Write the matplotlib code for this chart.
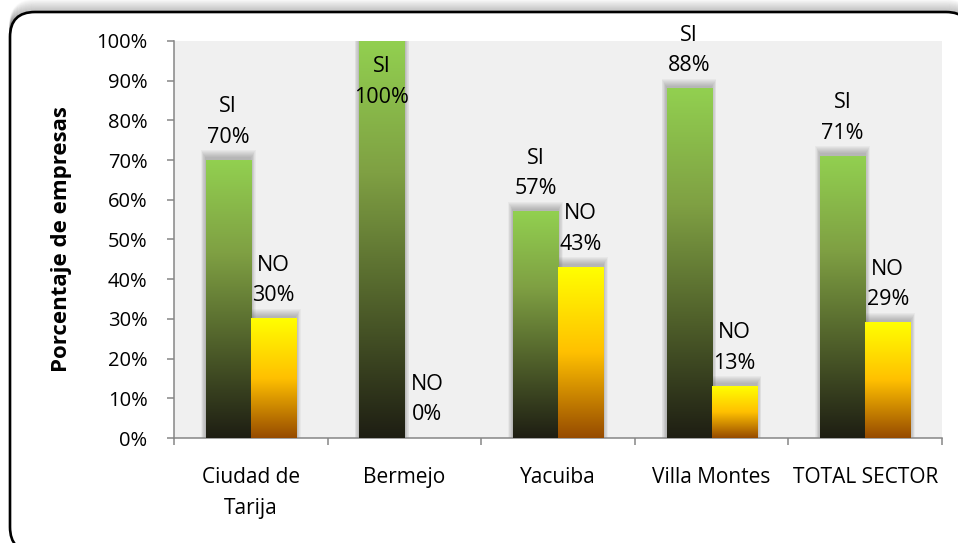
import matplotlib.pyplot as plt
import numpy as np
from matplotlib.patches import FancyBboxPatch, Rectangle
from matplotlib.colors import LinearSegmentedColormap

plt.rcParams['font.family'] = ['Open Sans', 'DejaVu Sans']

# datos del grafico
categorias = ["Ciudad de\nTarija", "Bermejo", "Yacuiba", "Villa Montes", "TOTAL SECTOR"]
si = [70, 100, 57, 88, 71]
no = [30, 0, 43, 13, 29]
series = ["SI", "NO"]

fig = plt.figure(figsize=(9.58, 5.43), dpi=100)

# fondo con el marco redondeado (coordenadas en pixeles)
bg = fig.add_axes([0, 0, 1, 1], zorder=0)
bg.set_xlim(0, 958)
bg.set_ylim(543, 0)
bg.axis("off")
for k in range(1, 13):
    sh = FancyBboxPatch((10, 12 - k), 961, 540, boxstyle="round,pad=0,rounding_size=25",
                        facecolor="none", edgecolor="#707070", linewidth=1.2,
                        alpha=0.28 * (13 - k) / 12)
    bg.add_patch(sh)
marco = FancyBboxPatch((10, 12), 961, 540, boxstyle="round,pad=0,rounding_size=25",
                       facecolor="white", edgecolor="black", linewidth=1.9)
bg.add_patch(marco)

ax = fig.add_axes([174 / 958, 105 / 543, 768 / 958, 397 / 543], zorder=1)
ax.set_facecolor("#F0F0F0")

verde = LinearSegmentedColormap.from_list("verde", ["#1E1E13", "#4F5F2A", "#7FA043", "#92D050"])
amarillo = LinearSegmentedColormap.from_list("amarillo", ["#964B00", "#FFC000", "#FFFF00"])
grad = np.linspace(0, 1, 256).reshape(-1, 1)

ancho = 0.293
px_x = 1 / 153.6
px_y = 100 / 397

x = np.arange(len(categorias))
for i in x:
    for j, (vals, cmap) in enumerate([(si, verde), (no, amarillo)]):
        v = vals[i]
        x0 = i - ancho + j * ancho
        x1 = x0 + ancho
        if v > 0:
            # sombra difusa
            for d in range(1, 9):
                ax.add_patch(Rectangle((x0 - d * px_x * 0.6, 0), (x1 - x0) + 1.2 * d * px_x,
                                       v + (2 + d) * px_y, facecolor="#606060",
                                       edgecolor="none", alpha=0.06, zorder=2))
            ax.imshow(grad, cmap=cmap, extent=(x0, x1, 0, v), origin="lower",
                      aspect="auto", zorder=3 + j)
        # etiqueta encima de la barra, dentro si no cabe
        y_et = v if v < 95 else v - 20
        ax.annotate(f"{series[j]}\n{v}%", xy=((x0 + x1) / 2, y_et),
                    xytext=(0, 9), textcoords="offset points", ha="center",
                    va="bottom", fontsize=15.5, linespacing=1.6, color="black",
                    zorder=6, annotation_clip=False)

ax.set_xlim(-0.5, len(categorias) - 0.5)
ax.set_ylim(0, 100)
ax.set_yticks(range(0, 101, 10))
ax.set_yticklabels([f"{t}%" for t in range(0, 101, 10)], fontsize=14.5)
ax.set_xticks(x)
ax.set_xticklabels(categorias, fontsize=15, linespacing=1.6)
ax.set_xticks(np.arange(-0.5, len(categorias), 1), minor=True)
ax.tick_params(axis="x", which="major", length=0, pad=21)
ax.tick_params(axis="x", which="minor", length=5, width=1.1, color="#868686")
ax.tick_params(axis="y", length=5, width=1.1, color="#868686", pad=14)

for s in ["top", "right"]:
    ax.spines[s].set_visible(False)
for s in ["left", "bottom"]:
    ax.spines[s].set_color("#868686")
    ax.spines[s].set_linewidth(1.1)

ax.set_ylabel("Porcentaje de empresas", fontsize=16, fontweight="bold")
ax.yaxis.set_label_coords(-102 / 768, 0.5)

fig.savefig("out.png", dpi=100)
